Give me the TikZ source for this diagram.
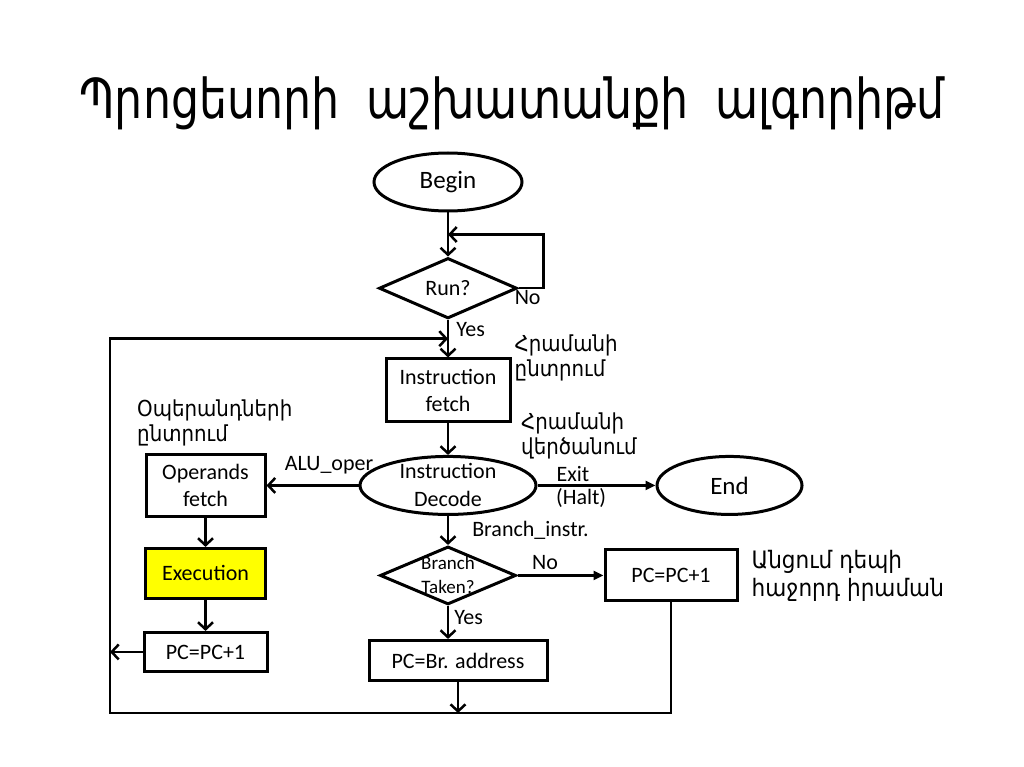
\documentclass[tikz,border=0pt]{standalone}
\usepackage{fontspec}
\setmainfont{Carlito}
\newfontfamily\armfont[FakeStretch=0.9]{DejaVu Sans}
\newfontfamily\armtitlefont{DejaVu Sans}
\usetikzlibrary{shapes.geometric, arrows.meta, positioning, calc}
\definecolor{execcolor}{RGB}{255, 255, 0}

\begin{document}
\begin{tikzpicture}[
    x=1pt, y=-1pt,
    terminal/.style={draw, ellipse, line width=3pt, minimum width=148pt, minimum height=58pt, inner sep=0pt, font=\fontsize{25}{28}\selectfont},
    decision/.style={draw, diamond, line width=3pt, minimum width=138pt, minimum height=56pt, inner sep=0pt, font=\fontsize{22}{26}\selectfont},
    process/.style={draw, line width=3pt, align=center, inner sep=0pt, font=\fontsize{22}{27}\selectfont},
    tagtext/.style={align=center, inner sep=0pt, font=\fontsize{22}{28}\selectfont},
    arrow/.style={-{Straight Barb[length=7pt,width=15pt]}, line width=2.5pt},
    flowarrow/.style={-{Triangle[length=10pt,width=9pt]}, line width=2.5pt},
    tag/.style={font=\fontsize{22}{26}\selectfont, inner sep=1pt},
    note/.style={font=\armfont\fontsize{22}{25}\selectfont, align=left, inner sep=0pt}
]
    \useasboundingbox (0,0) rectangle (1024,767);

    % Title
    \node[font=\armtitlefont\fontsize{55}{60}\selectfont, anchor=base] (title) at (512,119)
        {\resizebox{865pt}{\height}{Պրոցեսորի\hspace{0.6em}աշխատանքի\hspace{0.6em}ալգորիթմ}};

    % Main column
    \node[terminal] (begin) at (448,182) {Begin};
    \node[decision, below=44pt of begin] (run) {Run?};
    \node[process, minimum width=124pt, minimum height=63pt, below=37.5pt of run] (fetch) {Instruction\\fetch};
    \node[terminal, minimum width=176pt, below=31.5pt of fetch, label={[tagtext]center:Instruction\\Decode}] (decode) {};
    \node[decision, minimum width=136pt, minimum height=58pt, below=29pt of decode,
          label={[tagtext, font=\fontsize{19}{24}\selectfont]center:Branch\\Taken?}] (branch) {};
    \node[process, minimum width=178pt, minimum height=40pt, below=33pt of branch, xshift=10pt] (pcbranch) {PC=Br. address};

    % Left column
    \node[process, minimum width=119pt, minimum height=62pt, left=92pt of decode] (operands) {Operands\\fetch};
    \node[process, fill=execcolor, minimum width=120pt, minimum height=50pt, below=29pt of operands] (execution) {Execution};
    \node[process, minimum width=123pt, minimum height=39pt, below=31pt of execution] (pcnext) {PC=PC+1};

    % Right column
    \node[process, minimum width=132pt, minimum height=51pt, right=86pt of branch] (pcskip) {PC=PC+1};
    \node[terminal, minimum width=145pt, right=118pt of decode] (stop) {End};

    % Notes
    \node[note, right=3pt of fetch.north east] (fetchnote) {Հրամանի\\ընտրում};
    \node[note, anchor=west] (decodenote) at (521,436) {Հրամանի\\վերծանում};
    \node[note, anchor=west] (operandsnote) at (137,423) {Օպերանդների\\ընտրում};
    \node[note, right=13pt of pcskip, font=\armfont\fontsize{24}{28}\selectfont] (skipnote) {Անցում դեպի\\հաջորդ իրաման};

    % Loop points
    \coordinate (corner) at (110,713);
    \coordinate (runloop) at ($(begin.south)!0.5!(run.north)$);
    \coordinate (mainloop) at ($(run.south)!0.5!(fetch.north)$);

    % Connectors
    \draw[arrow] (begin) -- (run);
    \draw[arrow] (run.east) node[tag, anchor=north west, xshift=-6pt] {No} -- ++(25pt,0) |- (runloop);
    \draw[arrow] (run) -- (fetch) node[tag, pos=0.25, right=6pt] {Yes};
    \draw[arrow] (fetch) -- (decode);
    \draw[arrow] (decode) -- (operands) node[tag, pos=0.32, above=9pt] {ALU\_oper};
    \draw[flowarrow] (decode) -- (stop)
        node[tag, pos=0.3, above=2pt] {Exit}
        node[tag, pos=0.37, below=1pt] {(Halt)};
    \draw[arrow] (decode) -- (branch) node[tag, midway, right=22pt] {Branch\_instr.};
    \draw[flowarrow] (branch) -- (pcskip) node[tag, pos=0.32, above=4pt] {No};
    \draw[arrow] (branch.south) -- (branch.south |- pcbranch.north) node[tag, pos=0.35, right=4pt] {Yes};
    \draw[arrow] (operands) -- (execution);
    \draw[arrow] (execution) -- (pcnext);
    \draw[arrow] (pcnext.west) -- (pcnext.west -| corner);
    \draw[arrow] (pcbranch.south) -- (pcbranch.south |- corner);
    \draw[arrow] (pcskip.south) |- (corner) |- (mainloop);
\end{tikzpicture}
\end{document}
